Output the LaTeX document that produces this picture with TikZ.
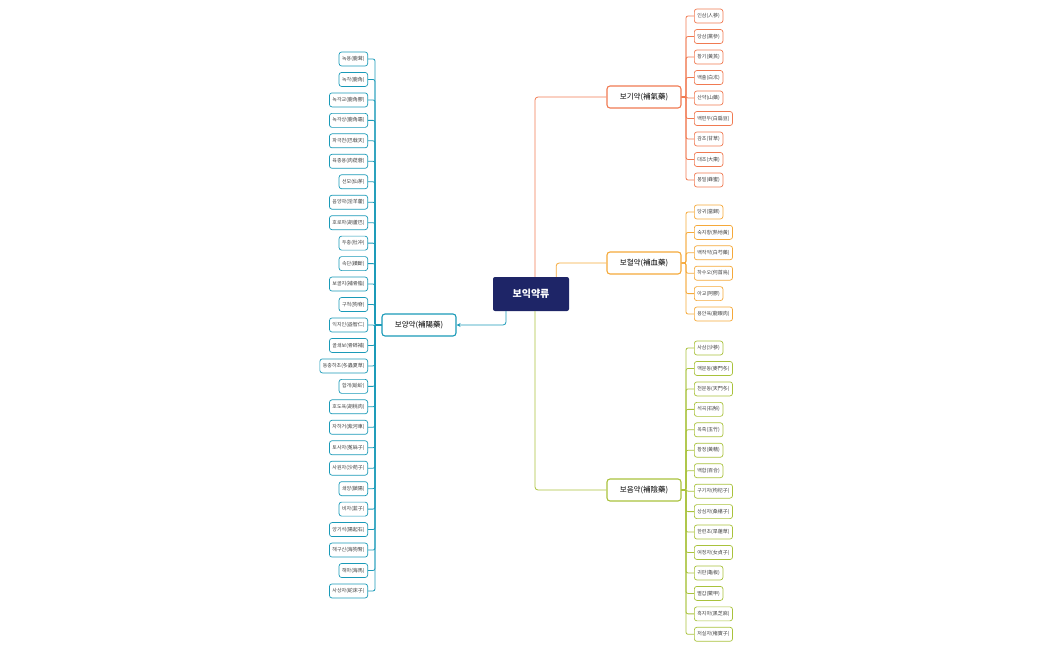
\documentclass[tikz,border=0pt]{standalone}
\usepackage{fontspec}
\setmainfont{Noto Sans CJK KR}
\usetikzlibrary{arrows.meta}
\definecolor{cQi}{HTML}{F07A52}
\definecolor{cXue}{HTML}{F5A93A}
\definecolor{cYin}{HTML}{A9C23C}
\definecolor{cYang}{HTML}{1A9AB8}
\definecolor{cNavy}{HTML}{1E2567}
\begin{document}
\begin{tikzpicture}[x=1pt,y=-1pt,
  leaf/.style={draw=#1,line width=0.7pt,rounded corners=2.5pt,fill=white,font=\fontsize{5}{6}\selectfont,text=black!75,inner xsep=3pt,inner ysep=0pt,minimum height=14pt},
  branch/.style={draw=#1,line width=1.1pt,rounded corners=3pt,fill=white,font=\fontsize{7.5}{9}\selectfont,minimum width=74pt,minimum height=22pt,inner sep=2pt},
  link/.style={draw=#1,line width=0.8pt,rounded corners=3pt}]
\useasboundingbox (0,0) rectangle (1050,650);
\node[fill=cNavy,text=white,rounded corners=2pt,minimum width=76pt,minimum height=34pt,font=\fontsize{10}{12}\selectfont\bfseries] (c) at (531,294) {보익약류};
\node[branch=cQi] (qi) at (644,97) {보기약(補氣藥)};
\node[branch=cXue] (xue) at (644,263) {보혈약(補血藥)};
\node[branch=cYin] (yin) at (644,490) {보음약(補陰藥)};
\node[branch=cYang] (yang) at (419,325) {보양약(補陽藥)};
\draw[link=cQi] (c.north) ++(4,0) coordinate (q0) |- (qi.west);
\draw[link=cXue] (c.east) ++(-13,0) ++(0,-17) coordinate (x0);
\draw[link=cXue] ([xshift=-13pt]c.north east) |- (xue.west);
\draw[link=cYin] ([xshift=4pt]c.south) |- (yin.west);
\draw[link=cYang,-{Stealth[length=4pt,width=4pt]}] ([xshift=-25pt]c.south) |- (yang.east);
% right leaves
\foreach \t [count=\i] in {인삼(人蔘),당삼(黨參),황기(黃芪),백출(白朮),산약(山藥),백편두(白扁豆),감초(甘草),대조(大棗),봉밀(蜂蜜)}{
  \node[leaf=cQi,anchor=west] (q\i) at (694,{16+(\i-1)*20.5}) {\t};
  \draw[link=cQi,rounded corners=2pt] (qi.east) -- (686,97) |- (q\i.west);}
\foreach \t [count=\i] in {당귀(當歸),숙지황(熟地黃),백작약(白芍藥),하수오(何首烏),아교(阿膠),용안육(龍眼肉)}{
  \node[leaf=cXue,anchor=west] (x\i) at (694,{212+(\i-1)*20.4}) {\t};
  \draw[link=cXue,rounded corners=2pt] (xue.east) -- (686,263) |- (x\i.west);}
\foreach \t [count=\i] in {사삼(沙蔘),맥문동(麥門冬),천문동(天門冬),석곡(石斛),옥죽(玉竹),황정(黃精),백합(百合),구기자(枸杞子),상심자(桑椹子),한련초(旱蓮草),여정자(女貞子),귀판(龜板),별갑(鱉甲),흑지마(黑芝麻),저실자(楮實子)}{
  \node[leaf=cYin,anchor=west] (y\i) at (694,{348+(\i-1)*20.45}) {\t};
  \draw[link=cYin,rounded corners=2pt] (yin.east) -- (686,490) |- (y\i.west);}
\foreach \t [count=\i] in {녹용(鹿茸),녹각(鹿角),녹각교(鹿角膠),녹각상(鹿角霜),파극천(巴戟天),육종용(肉蓯蓉),선모(仙茅),음양곽(淫羊藿),호로파(胡蘆巴),두충(杜冲),속단(續斷),보골지(補骨脂),구척(狗脊),익지인(益智仁),골쇄보(骨碎補),동충하초(冬蟲夏草),합개(蛤蚧),호도육(胡桃肉),자하거(紫河車),토사자(菟絲子),사원자(沙苑子),쇄양(鎖陽),비자(韮子),양기석(陽起石),해구신(海狗腎),해마(海馬),사상자(蛇床子)}{
  \node[leaf=cYang,anchor=east] (g\i) at (368,{59+(\i-1)*20.46}) {\t};
  \draw[link=cYang,rounded corners=2pt] (yang.west) -- (375,325) |- (g\i.east);}
\end{tikzpicture}
\end{document}
